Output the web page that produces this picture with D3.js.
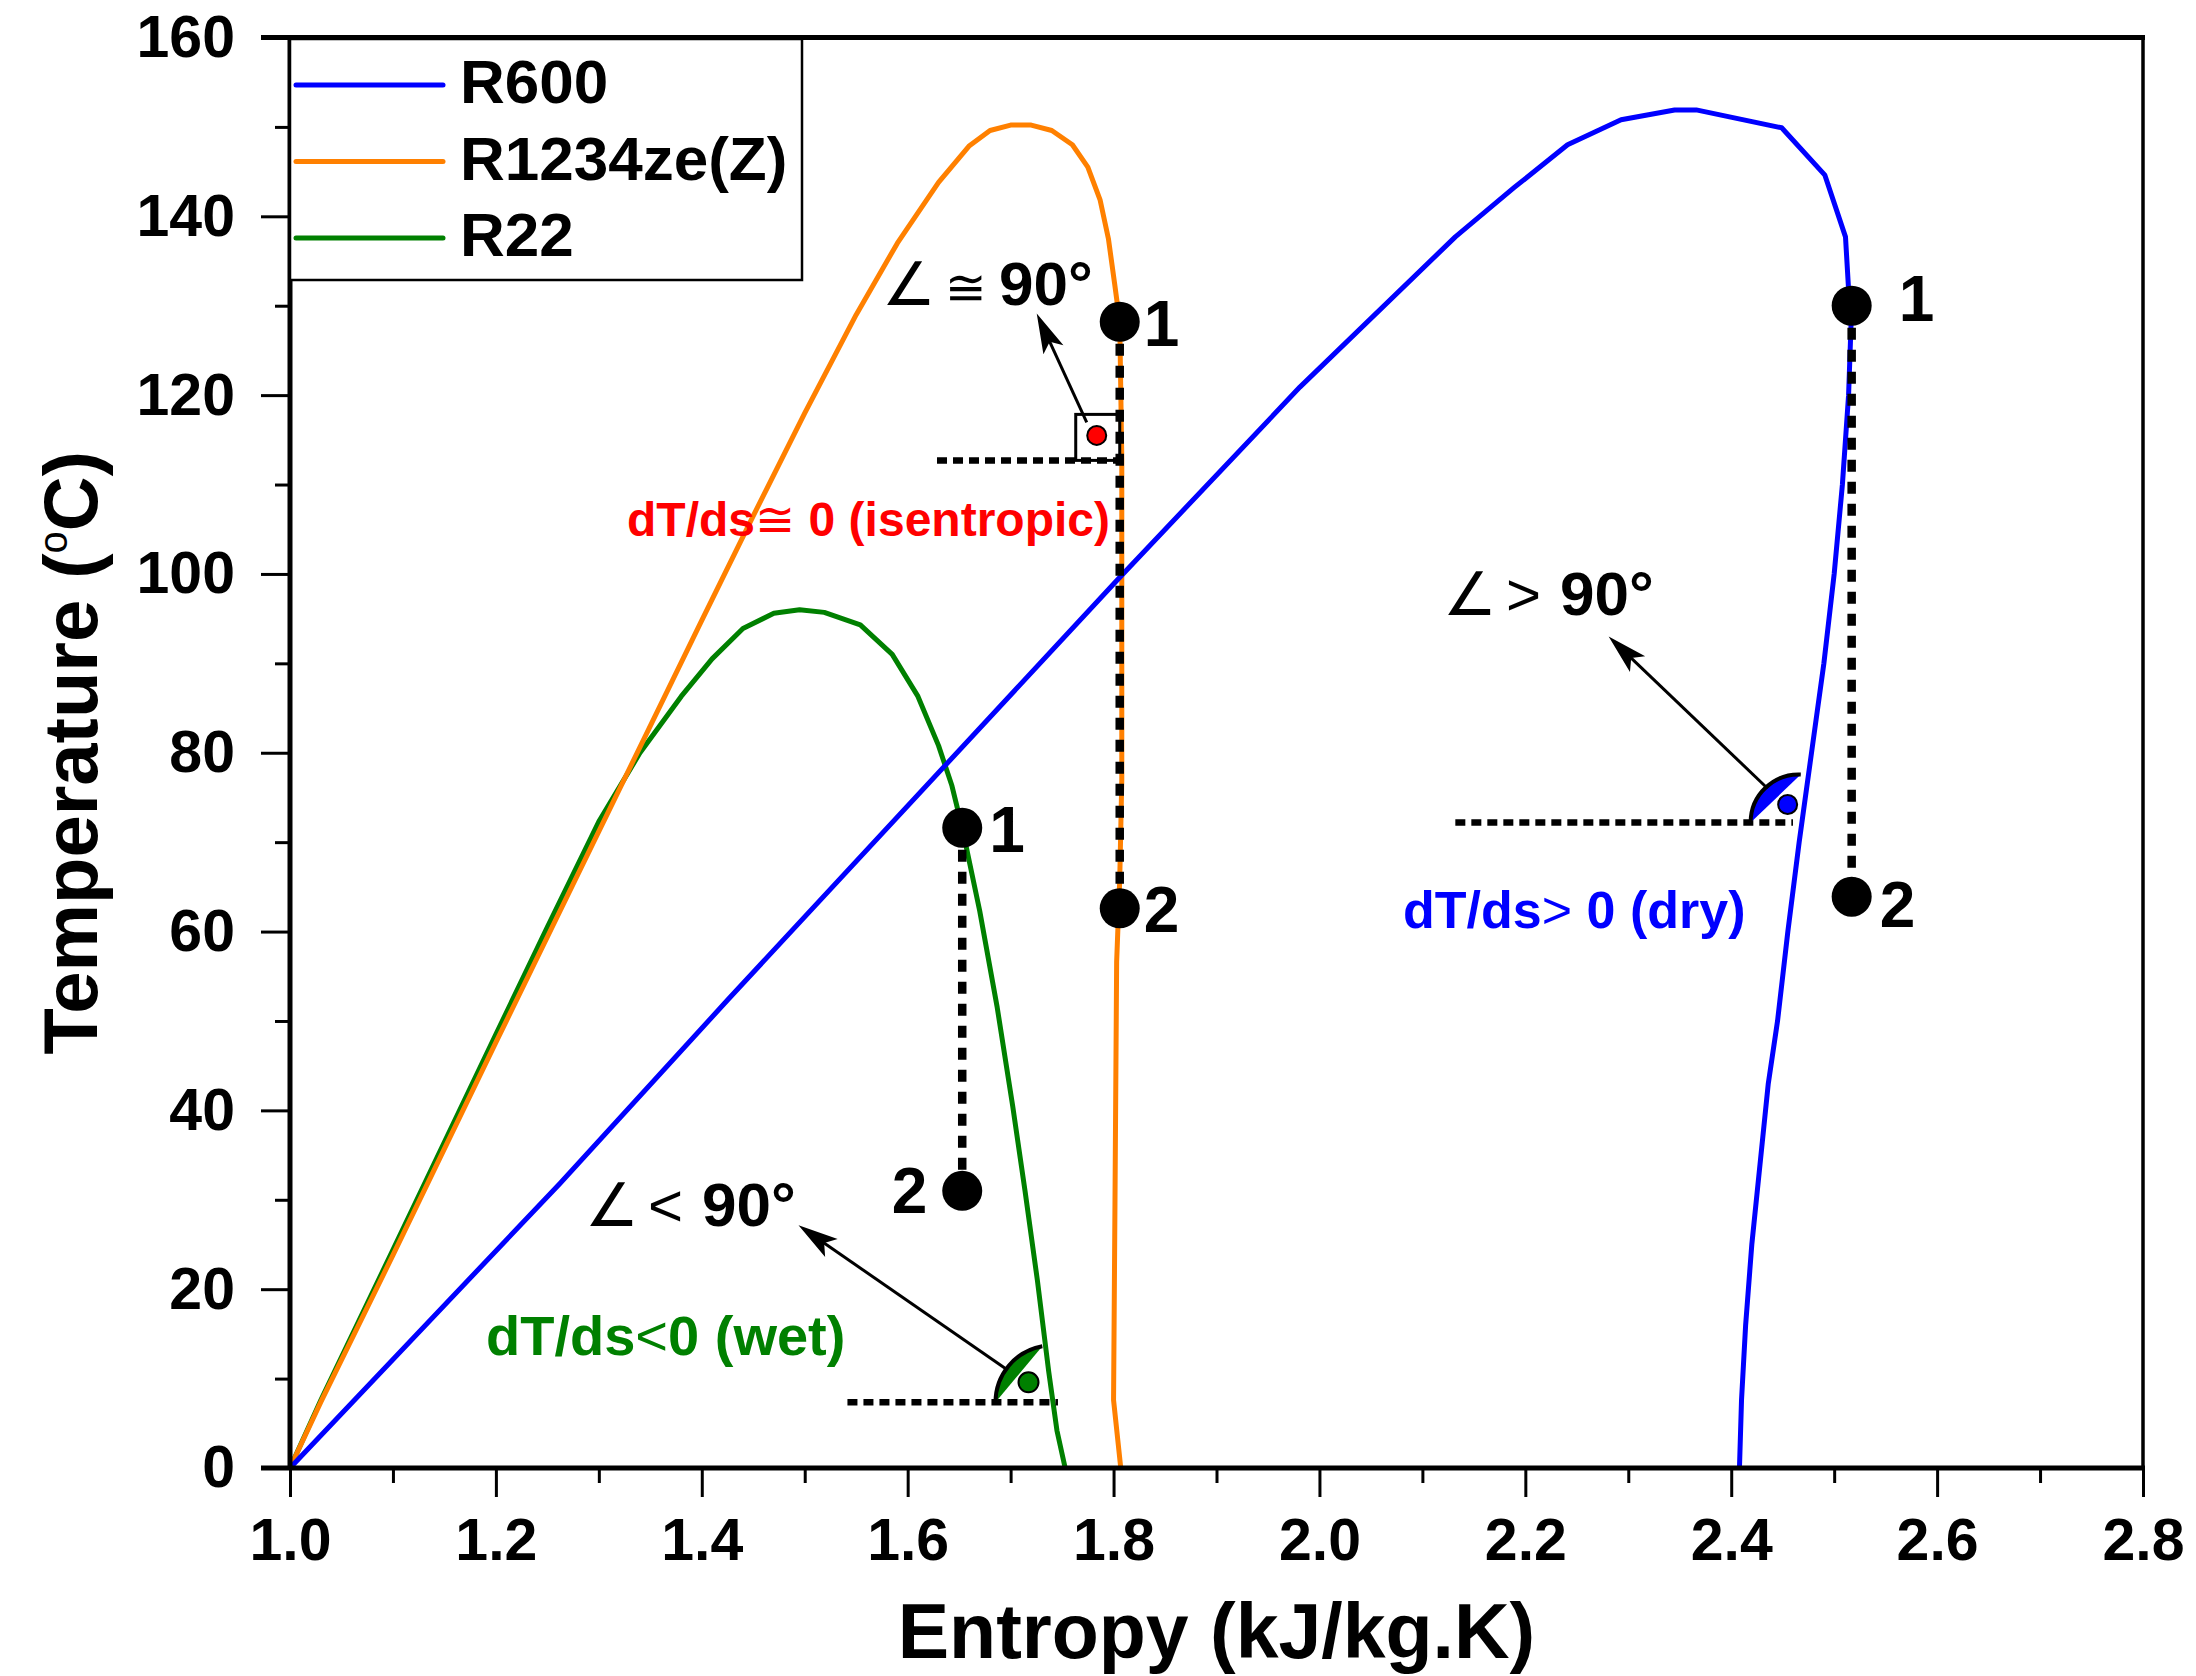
<!DOCTYPE html>
<html>
<head>
<meta charset="utf-8">
<script src="https://cdnjs.cloudflare.com/ajax/libs/d3/7.8.5/d3.min.js"></script>
<style>
  html, body { margin: 0; padding: 0; background: #fff; }
  svg { display: block; font-family: "Liberation Sans", Arial, Helvetica, sans-serif; }
</style>
</head>
<body>
<svg id="chart" width="2196" height="1676"></svg>
<script>
// ---- Saturation curves: [entropy s (kJ/kg.K), temperature T (°C)] ----
const r600 = [
  [1.000, 0], [1.262, 31.8], [1.4255, 52.4], [1.8034, 99.3], [1.981, 120.9],
  [2.132, 137.7], [2.189, 143.2], [2.241, 148.0], [2.293, 150.8], [2.345, 151.9],
  [2.366, 151.9], [2.449, 149.9], [2.491, 144.6], [2.511, 137.7], [2.514, 131.8],
  [2.517, 129.9], [2.514, 120.0], [2.508, 110.0], [2.500, 100.0], [2.490, 90.0],
  [2.478, 80.0], [2.466, 70.0], [2.455, 60.0], [2.445, 50.0], [2.436, 43.0],
  [2.428, 34.0], [2.420, 25.0], [2.414, 16.0], [2.410, 7.6], [2.408, 0]
];
const r1234zeZ = [
  [1.000, 0], [1.030, 7.4], [1.100, 23.8], [1.200, 47.6], [1.300, 71.2], [1.400, 94.8],
  [1.450, 106.5], [1.500, 118.0], [1.550, 129.0], [1.590, 137.0], [1.630, 143.8],
  [1.660, 147.9], [1.680, 149.6], [1.700, 150.2], [1.720, 150.2], [1.740, 149.6],
  [1.760, 148.0], [1.775, 145.5], [1.787, 141.8], [1.795, 137.5], [1.801, 132.5],
  [1.806, 128.2], [1.808, 113.0], [1.808, 77.0], [1.806, 65.8], [1.803, 56.6],
  [1.8014, 30.0], [1.800, 7.6], [1.807, 0]
];
const r22 = [
  [1.000, 0], [1.030, 7.6], [1.100, 24.4], [1.200, 48.5], [1.250, 60.5], [1.300, 72.3],
  [1.340, 80.0], [1.380, 86.3], [1.410, 90.5], [1.440, 93.9], [1.470, 95.6],
  [1.495, 96.0], [1.519, 95.7], [1.554, 94.3], [1.585, 91.0], [1.610, 86.3],
  [1.630, 80.8], [1.643, 76.3], [1.653, 71.6], [1.670, 62.3], [1.687, 51.5],
  [1.702, 40.5], [1.714, 31.0], [1.726, 21.0], [1.737, 10.8], [1.745, 4.2], [1.753, 0]
];

const seriesNames = ["R600", "R1234ze(Z)", "R22"];

// ---- Expansion states 1 -> 2 on each fluid ----
const r600States    = [{ s: 2.517, T: 130.0, label: "1" }, { s: 2.517, T: 63.9, label: "2" }];
const r1234zeStates = [{ s: 1.806, T: 128.2, label: "1" }, { s: 1.806, T: 62.6, label: "2" }];
const r22States     = [{ s: 1.653, T: 71.6, label: "1" }, { s: 1.653, T: 31.0, label: "2" }];

// ---- Horizontal reference lines where the vapour-curve slope is marked ----
const refTemps   = [112.7, 7.35, 72.2];          // R1234ze(Z), R22, R600
const refStartS  = [1.6285, 1.5415, 2.132];
const refEndS    = [1.806, 1.746, 2.460];
const refVertexS = [1.806, 1.7407, 2.4655];

// ---- Axis ticks ----
const xTicks = [1.0, 1.2, 1.4, 1.6, 1.8, 2.0, 2.2, 2.4, 2.6, 2.8];
const xMinorTicks = [1.1, 1.3, 1.5, 1.7, 1.9, 2.1, 2.3, 2.5, 2.7];
const yTicks = [0, 20, 40, 60, 80, 100, 120, 140, 160];
const yMinorTicks = [10, 30, 50, 70, 90, 110, 130, 150];

// ---- Drawing ----
const svg = d3.select("#chart");
const W = 2196, H = 1676;
svg.append("rect").attr("width", W).attr("height", H).attr("fill", "#fff");

const x = d3.scaleLinear().domain([1.0, 2.8]).range([290, 2143]);
const y = d3.scaleLinear().domain([0, 160]).range([1468, 37.5]);

const COLORS = { "R600": "#0000ff", "R1234ze(Z)": "#ff8000", "R22": "#008000" };
const BOLD_FONT = '"Liberation Sans", Arial, Helvetica, sans-serif';
const SYM_FONT = '"DejaVu Sans", "Liberation Sans", sans-serif';

// axes
function styleAxis(g, size) {
  g.attr("font-family", null).attr("font-size", null);
  g.select(".domain").remove();
  g.selectAll(".tick line").attr("stroke", "#000").attr("stroke-width", 3);
  g.selectAll(".tick text").attr("fill", "#000").attr("font-size", size)
    .attr("font-weight", "bold").attr("font-family", BOLD_FONT);
}
svg.append("g").attr("transform", `translate(0,${y(0)})`)
  .call(d3.axisBottom(x).tickValues(xMinorTicks).tickSize(15).tickSizeOuter(0).tickFormat(""))
  .call(g => styleAxis(g, 59));
svg.append("g").attr("transform", `translate(0,${y(0)})`)
  .call(d3.axisBottom(x).tickValues(xTicks).tickSize(29).tickPadding(21).tickSizeOuter(0).tickFormat(d3.format(".1f")))
  .call(g => styleAxis(g, 59));
svg.append("g").attr("transform", `translate(${x(1.0)},0)`)
  .call(d3.axisLeft(y).tickValues(yMinorTicks).tickSize(15).tickSizeOuter(0).tickFormat(""))
  .call(g => styleAxis(g, 59));
svg.append("g").attr("transform", `translate(${x(1.0)},0)`)
  .call(d3.axisLeft(y).tickValues(yTicks).tickSize(29).tickPadding(26).tickSizeOuter(0).tickFormat(d3.format("d")))
  .call(g => styleAxis(g, 59));

// axis titles
svg.append("text")
  .attr("x", (x.range()[0] + x.range()[1]) / 2).attr("y", 1658)
  .attr("text-anchor", "middle").attr("font-size", 77).attr("font-weight", "bold")
  .text("Entropy (kJ/kg.K)");
const yt = svg.append("text")
  .attr("transform", `translate(97,${(y.range()[0] + y.range()[1]) / 2}) rotate(-90)`)
  .attr("text-anchor", "middle").attr("font-size", 76).attr("font-weight", "bold");
yt.append("tspan").text("Temperature (");
yt.append("tspan").attr("font-size", 40).attr("font-weight", "normal").attr("dy", -30).text("o");
yt.append("tspan").attr("dy", 30).text("C)");

// saturation curves
const line = d3.line().x(d => x(d[0])).y(d => y(d[1]));
const curves = [["R22", r22], ["R1234ze(Z)", r1234zeZ], ["R600", r600]];
svg.append("g").selectAll("path").data(curves).join("path")
  .attr("d", d => line(d[1]))
  .attr("fill", "none")
  .attr("stroke", d => COLORS[d[0]])
  .attr("stroke-width", 5)
  .attr("stroke-linejoin", "round");

// horizontal dotted reference lines
const refG = svg.append("g");
refTemps.forEach((T, i) => {
  refG.append("line")
    .attr("x1", x(refStartS[i])).attr("x2", x(refEndS[i]))
    .attr("y1", y(T)).attr("y2", y(T))
    .attr("stroke", "#000").attr("stroke-width", 6.5).attr("stroke-dasharray", "10,6");
});

// arrow helper
function arrow(g, x1, y1, x2, y2) {
  const dx = x2 - x1, dy = y2 - y1, len = Math.hypot(dx, dy);
  const ux = dx / len, uy = dy / len, nx = -uy, ny = ux;
  const L = 40, Wd = 11;
  g.append("line").attr("x1", x1).attr("y1", y1)
    .attr("x2", x2 - ux * L * 0.7).attr("y2", y2 - uy * L * 0.7)
    .attr("stroke", "#000").attr("stroke-width", 3);
  const p = [
    [x2, y2],
    [x2 - ux * L + nx * Wd, y2 - uy * L + ny * Wd],
    [x2 - ux * L * 0.78, y2 - uy * L * 0.78],
    [x2 - ux * L - nx * Wd, y2 - uy * L - ny * Wd]
  ];
  g.append("path").attr("d", "M" + p.map(q => q.join(",")).join("L") + "Z").attr("fill", "#000");
}

// angle marker: filled segment between the horizontal and the vapour curve
function angleMark(g, vx, vy, r, a2deg, color) {
  const a1 = Math.PI, a2 = a2deg * Math.PI / 180;
  const sx = vx + r * Math.cos(a1), sy = vy + r * Math.sin(a1);
  const ex = vx + r * Math.cos(a2), ey = vy + r * Math.sin(a2);
  const arcD = `M${sx},${sy} A${r},${r} 0 0 1 ${ex},${ey}`;
  g.append("path").attr("d", arcD + "Z").attr("fill", color);
  g.append("path").attr("d", arcD).attr("fill", "none").attr("stroke", "#000").attr("stroke-width", 4);
}

const annG = svg.append("g");

// R1234ze(Z): right-angle box with red dot
{
  const cx = x(refVertexS[0]), cy = y(refTemps[0]);
  annG.append("rect").attr("x", cx - 44).attr("y", cy - 46).attr("width", 44).attr("height", 46)
    .attr("fill", "none").attr("stroke", "#000").attr("stroke-width", 3);
  annG.append("circle").attr("cx", cx - 23).attr("cy", cy - 25).attr("r", 9.5)
    .attr("fill", "#ff0000").attr("stroke", "#000").attr("stroke-width", 2);
  arrow(annG, cx - 33, cy - 38, cx - 83, cy - 147);
}
// R22: angle below 90 degrees
{
  const vx = x(refVertexS[1]), vy = y(refTemps[1]);
  angleMark(annG, vx, vy, 57, -100.3, COLORS["R22"]);
  annG.append("circle").attr("cx", vx - 24).attr("cy", vy - 20).attr("r", 10)
    .attr("fill", COLORS["R22"]).attr("stroke", "#000").attr("stroke-width", 2);
  arrow(annG, vx - 46, vy - 33, vx - 254, vy - 177);
}
// R600: angle above 90 degrees
{
  const vx = x(refVertexS[2]), vy = y(refTemps[2]);
  angleMark(annG, vx, vy, 48, -87.5, COLORS["R600"]);
  annG.append("circle").attr("cx", vx - 11).attr("cy", vy - 18).attr("r", 9.5)
    .attr("fill", COLORS["R600"]).attr("stroke", "#000").attr("stroke-width", 2);
  arrow(annG, vx - 31, vy - 34, vx - 190, vy - 186);
}

// angle labels
function angleLabel(s, T, rel) {
  const px = x(s), py = y(T);
  annG.append("text").attr("x", px).attr("y", py).attr("font-family", SYM_FONT)
    .attr("font-size", 60).text("\u2220");
  annG.append("text").attr("x", px + 63).attr("y", py)
    .attr("font-family", rel === "\u2245" ? SYM_FONT : BOLD_FONT)
    .attr("font-size", rel === "\u2245" ? 50 : 60).text(rel);
  annG.append("text").attr("x", px + 117).attr("y", py)
    .attr("font-size", 62).attr("font-weight", "bold").text("90\u00b0");
}
angleLabel(1.5751, 130.08, "\u2245");
angleLabel(1.2866, 27.07, "<");
angleLabel(2.1201, 95.41, ">");

// coloured slope labels
function slopeLabel(s, T, size, color, rel, rest) {
  const t = annG.append("text").attr("x", x(s)).attr("y", y(T))
    .attr("font-size", size).attr("font-weight", "bold").attr("fill", color);
  t.append("tspan").text("dT/ds");
  t.append("tspan").attr("font-weight", "normal")
    .attr("font-family", rel === "\u2245" ? SYM_FONT : BOLD_FONT).text(rel);
  t.append("tspan").text(rest);
}
slopeLabel(1.3274, 104.24, 48, "#ff0000", "\u2245", " 0 (isentropic)");
slopeLabel(1.1904, 12.64, 56, COLORS["R22"], "<", "0 (wet)");
slopeLabel(2.0812, 60.40, 52, COLORS["R600"], ">", " 0 (dry)");

// expansion lines and states
const stateSets = [
  { pts: r22States,     off: [[27, 24, "start"], [-35, 22, "end"]] },
  { pts: r1234zeStates, off: [[24, 24, "start"], [24, 24, "start"]] },
  { pts: r600States,    off: [[47, 15, "start"], [28, 30, "start"]] }
];
const stG = svg.append("g");
stateSets.forEach(set => {
  const [p1, p2] = set.pts;
  stG.append("line")
    .attr("x1", x(p1.s)).attr("y1", y(p1.T)).attr("x2", x(p2.s)).attr("y2", y(p2.T))
    .attr("stroke", "#000").attr("stroke-width", 8.5).attr("stroke-dasharray", "12,10");
});
stateSets.forEach(set => {
  set.pts.forEach((p, i) => {
    stG.append("circle").attr("cx", x(p.s)).attr("cy", y(p.T)).attr("r", 20).attr("fill", "#000");
    const o = set.off[i];
    stG.append("text").attr("x", x(p.s) + o[0]).attr("y", y(p.T) + o[1])
      .attr("text-anchor", o[2]).attr("font-size", 64).attr("font-weight", "bold").text(p.label);
  });
});

// frame
const fr = svg.append("g").attr("stroke", "#000");
fr.append("line").attr("x1", x(1.0)).attr("x2", x(1.0)).attr("y1", y(160)).attr("y2", y(0)).attr("stroke-width", 5);
fr.append("line").attr("x1", x(1.0) - 29).attr("x2", x(2.8) + 2).attr("y1", y(0)).attr("y2", y(0)).attr("stroke-width", 5);
fr.append("line").attr("x1", x(1.0) - 29).attr("x2", x(2.8) + 2).attr("y1", y(160)).attr("y2", y(160)).attr("stroke-width", 5);
fr.append("line").attr("x1", x(2.8)).attr("x2", x(2.8)).attr("y1", y(160)).attr("y2", y(0)).attr("stroke-width", 3.5);

// legend
const lg = svg.append("g");
lg.append("rect").attr("x", x(1.0)).attr("y", y(160) + 1.5).attr("width", 512).attr("height", 241)
  .attr("fill", "#fff").attr("stroke", "#000").attr("stroke-width", 2.5);
seriesNames.forEach((name, i) => {
  const ly = 85 + i * 76.5;
  lg.append("line").attr("x1", 296).attr("x2", 443).attr("y1", ly).attr("y2", ly)
    .attr("stroke", COLORS[name]).attr("stroke-width", 5).attr("stroke-linecap", "round");
  lg.append("text").attr("x", 460).attr("y", ly + 18)
    .attr("font-size", 62).attr("font-weight", "bold").text(name);
});
</script>
</body>
</html>
